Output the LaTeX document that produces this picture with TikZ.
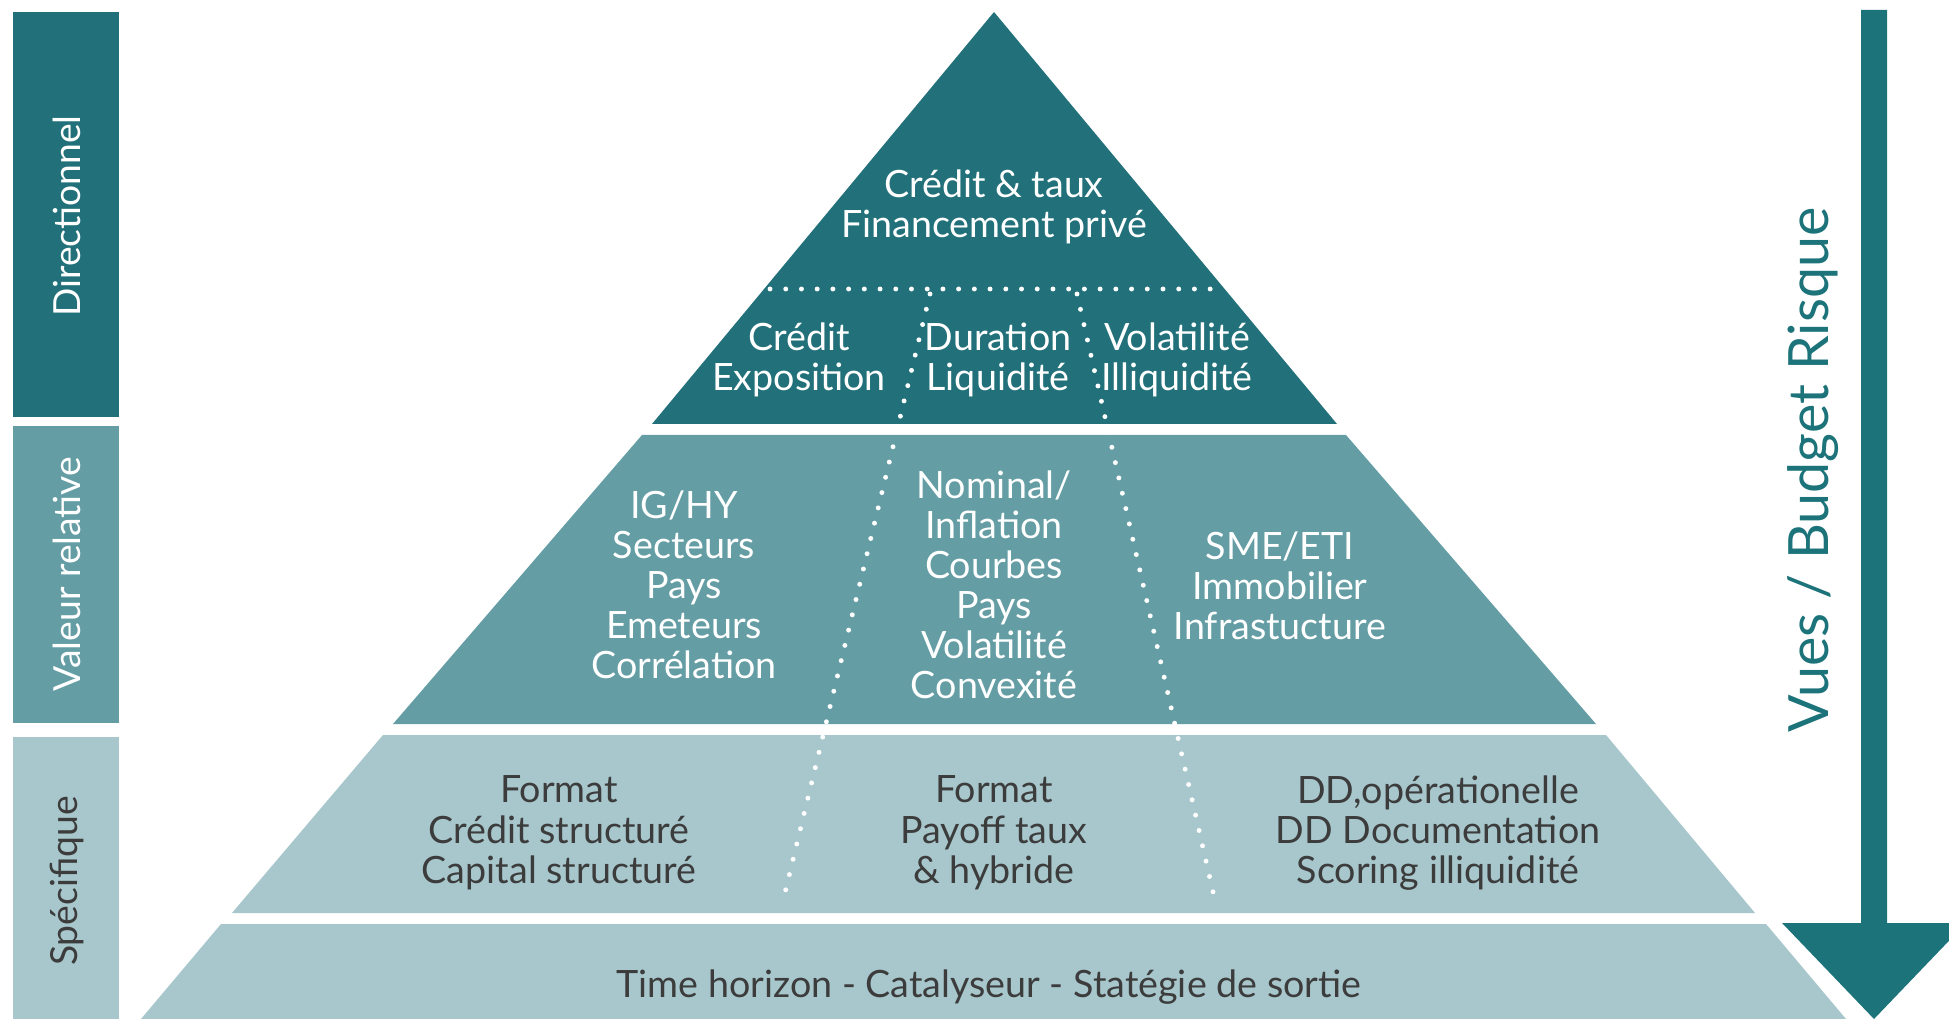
\documentclass[tikz,border=0pt]{standalone}
\usepackage{fontspec}
\setmainfont{Lato}
\definecolor{tealdark}{RGB}{34,113,122}
\definecolor{tealmid}{RGB}{100,158,164}
\definecolor{teallight}{RGB}{167,199,204}
\definecolor{arrowteal}{RGB}{29,115,122}
\definecolor{greytext}{RGB}{60,60,60}
\begin{document}
\begin{tikzpicture}
  [x=0.01cm,y=-0.01cm,
   lbl/.style={align=center,yshift=-0.8pt,font=\fontsize{10.7}{11.4}\selectfont},
   lblw/.style={lbl,text=white},
   lbld/.style={lbl,text=greytext},
   side/.style={rotate=90,font=\fontsize{10.6}{12}\selectfont},
   dotline/.style={white,line width=1.4pt,line cap=round,dash pattern=on 0pt off 4.47pt}]
  \clip (0,0) rectangle (1949,1019);

  % left bands
  \fill[tealdark] (13,12) rectangle (119,417);
  \fill[tealmid] (13,426) rectangle (119,723);
  \fill[teallight] (13,737) rectangle (119,1019);
  \node[side,text=white] (dir) at (67,216) {Directionnel};
  \node[side,text=white] (val) at (67,574) {Valeur relative};
  \node[side,text=greytext] (spe) at (67,881) {Spécifique};

  % pyramid layers
  \fill[tealdark] (994,12) -- (1337,424) -- (652,424) -- cycle;
  \fill[tealmid] (642,435) -- (1346,435) -- (1596,724) -- (393,724) -- cycle;
  \fill[teallight] (383,735) -- (1606,735) -- (1755,913) -- (232,913) -- cycle;
  \fill[teallight] (221,924) -- (1766,924) -- (1846,1019) -- (141,1019) -- cycle;

  % dotted separators
  \coordinate (hl) at (770,289);
  \coordinate (hr) at (1218,289);
  \coordinate (la) at (930,294);
  \coordinate (lb) at (782,905);
  \coordinate (ra) at (1077,294);
  \coordinate (rb) at (1216,905);
  \foreach \from/\to in {hl/hr,la/lb,ra/rb}
    \draw[dotline] (\from) -- (\to);

  % texts
  \node[lblw] (top) at (994,204) {Crédit \& taux\\Financement privé};
  \node[lblw] (cre) at (799,357) {Crédit\\Exposition};
  \node[lblw] (dur) at (998,357) {Duration\\Liquidité};
  \node[lblw] (vol) at (1177,357) {Volatilité\\Illiquidité};
  \node[lblw] (ig) at (684,582) {IG/HY\\Secteurs\\Pays\\Emeteurs\\Corrélation};
  \node[lblw] (nom) at (994,582) {Nominal/\\Inflation\\Courbes\\Pays\\Volatilité\\Convexité};
  \node[lblw] (sme) at (1280,583) {SME/ETI\\Immobilier\\Infrastucture};
  \node[lbld] (fa) at (559,830) {Format\\Crédit structuré\\Capital structuré};
  \node[lbld] (fb) at (994,830) {Format\\Payoff taux\\\& hybride};
  \node[lbld] (dd) at (1438,830) {DD,opérationelle\\DD Documentation\\Scoring illiquidité};
  \node[lbld] (time) at (989,984) {Time horizon - Catalyseur - Statégie de sortie};

  % arrow
  \fill[arrowteal] (1861,10) -- (1887,10) -- (1887,923) -- (1966,923)
    -- (1874,1019) -- (1782,923) -- (1861,923) -- cycle;
  \node[rotate=90,text=arrowteal,font=\fontsize{15.8}{18}\selectfont] (vues) at (1813,470) {Vues / Budget Risque};
\end{tikzpicture}
\end{document}
